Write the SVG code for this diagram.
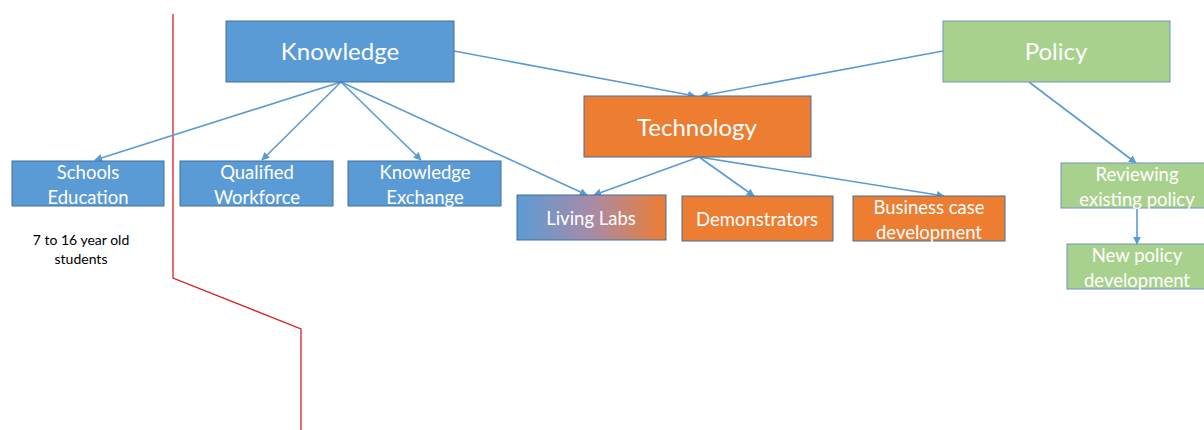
<svg xmlns="http://www.w3.org/2000/svg" width="1204" height="430" viewBox="0 0 1204 430">
<defs>
<style>
.bl{fill:#5B9BD5;stroke:#41719C;stroke-width:1}
.or{fill:#ED7D31;stroke:#41719C;stroke-width:1}
.gr{fill:#A9D18E;stroke:#6F95C0;stroke-width:1}
.t{font-family:Lato,"Open Sans","Liberation Sans",sans-serif;fill:#fff;text-anchor:middle}
.big{font-size:24px}
.sm{font-size:18.5px}
.c{stroke:#5B9BD5;stroke-width:1.6;fill:none;marker-end:url(#ah)}
</style>
<marker id="ah" viewBox="0 0 10 10" refX="9" refY="5" markerWidth="8" markerHeight="8" orient="auto" markerUnits="userSpaceOnUse">
<path d="M0,0 L10,5 L0,10 z" fill="#5B9BD5"/>
</marker>
<linearGradient id="lg" x1="0" y1="0" x2="1" y2="0">
<stop offset="0" stop-color="#5B9BD5"/>
<stop offset="0.5" stop-color="#A88BA8"/>
<stop offset="1" stop-color="#ED7D31"/>
</linearGradient>
</defs>
<rect width="1204" height="430" fill="#fff"/>
<g id="redline"><polyline points="173,14 173,278 301,329 301,430" fill="none" stroke="#D9202A" stroke-width="1.3"/></g>
<g id="connectors">
<line class="c" x1="341" y1="82" x2="95" y2="160"/>
<line class="c" x1="341" y1="82" x2="262" y2="160"/>
<line class="c" x1="341" y1="82" x2="421" y2="160"/>
<line class="c" x1="341" y1="82" x2="587" y2="195"/>
<line class="c" x1="454" y1="51" x2="695" y2="96"/>
<line class="c" x1="943" y1="51" x2="701" y2="96"/>
<line class="c" x1="699" y1="157" x2="594" y2="195"/>
<line class="c" x1="699" y1="157" x2="754" y2="196"/>
<line class="c" x1="699" y1="157" x2="944" y2="196"/>
<line class="c" x1="1029" y1="82" x2="1136" y2="163"/>
<line class="c" x1="1137" y1="208" x2="1137" y2="244"/>
</g>
<g id="knowledge"><rect class="bl" x="226" y="21" width="228" height="61"/><text class="t big" x="340" y="60">Knowledge</text></g>
<g id="policy"><rect class="gr" x="943" y="21" width="227" height="61"/><text class="t big" x="1056" y="60">Policy</text></g>
<g id="technology"><rect class="or" x="584" y="96" width="227" height="61"/><text class="t big" x="697" y="136">Technology</text></g>
<g id="schools"><rect class="bl" x="12" y="161" width="152" height="45"/><text class="t sm" x="88" y="179">Schools</text><text class="t sm" x="88" y="204">Education</text></g>
<g id="qualified"><rect class="bl" x="180" y="161" width="153" height="45"/><text class="t sm" x="257" y="179">Qualified</text><text class="t sm" x="257" y="204">Workforce</text></g>
<g id="exchange"><rect class="bl" x="348" y="161" width="153" height="45"/><text class="t sm" x="425" y="179">Knowledge</text><text class="t sm" x="425" y="204">Exchange</text></g>
<g id="livinglabs"><rect x="517" y="195" width="149" height="45" fill="url(#lg)" stroke="#41719C" stroke-width="1"/><text class="t sm" x="591" y="225">Living Labs</text></g>
<g id="demonstrators"><rect class="or" x="682" y="196" width="151" height="45"/><text class="t sm" x="757" y="226">Demonstrators</text></g>
<g id="business"><rect class="or" x="853" y="196" width="152" height="45"/><text class="t sm" x="929" y="214">Business case</text><text class="t sm" x="929" y="239">development</text></g>
<g id="reviewing"><rect class="gr" x="1061" y="163" width="152" height="45"/><text class="t sm" x="1137" y="181">Reviewing</text><text class="t sm" x="1137" y="206">existing policy</text></g>
<g id="newpolicy"><rect class="gr" x="1067" y="244" width="145" height="45"/><text class="t sm" x="1137" y="262">New policy</text><text class="t sm" x="1137" y="287">development</text></g>
<g id="students"><text font-family="Lato,'Open Sans','Liberation Sans',sans-serif" font-size="14" fill="#000" text-anchor="middle"><tspan x="81" y="245">7 to 16 year old</tspan><tspan x="81" y="264">students</tspan></text></g>
</svg>
